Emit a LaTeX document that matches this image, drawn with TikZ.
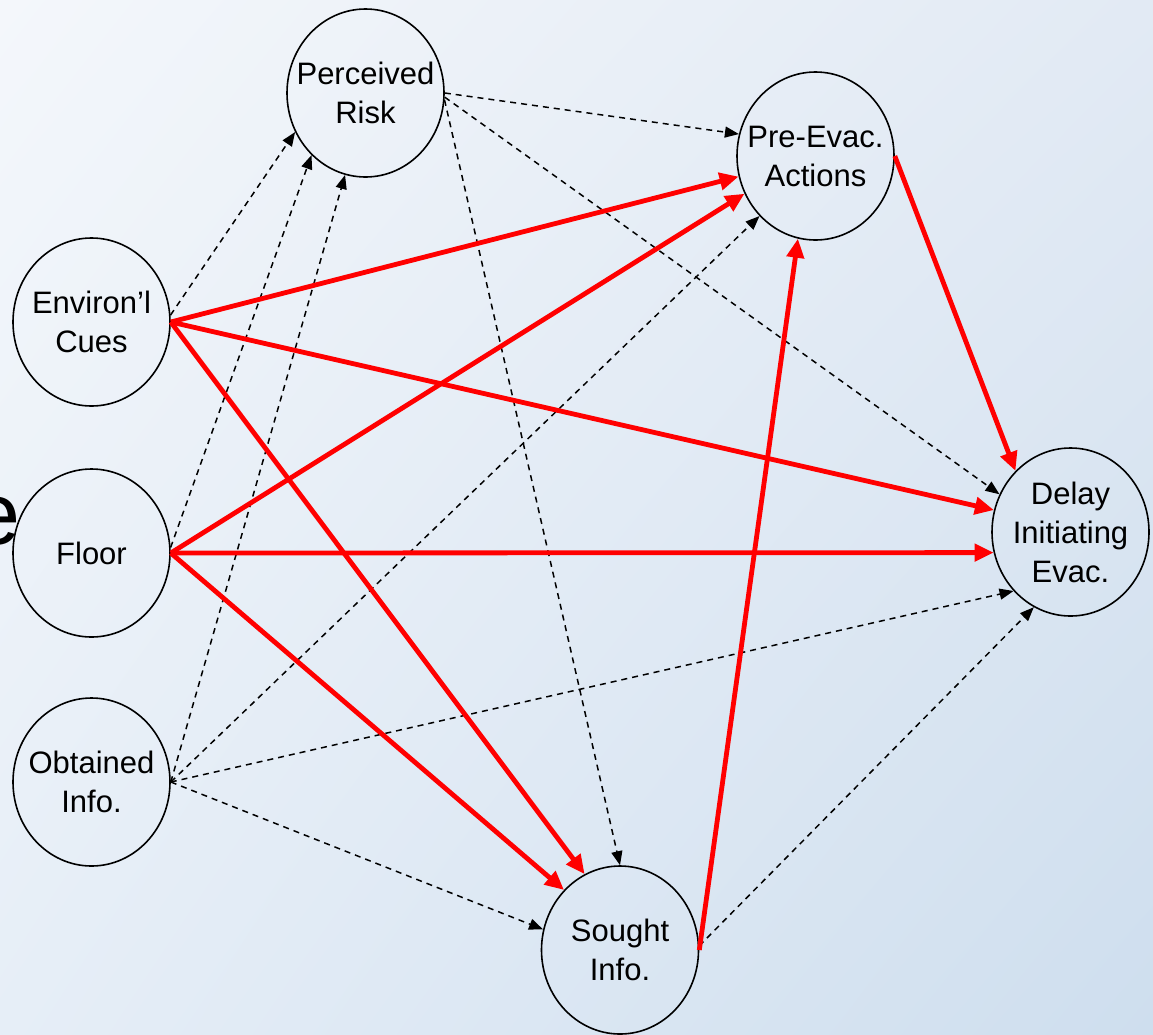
\documentclass[tikz,border=0pt]{standalone}
\usepackage{fontspec}
\setmainfont{Liberation Sans}
\usetikzlibrary{arrows.meta,shapes.geometric,shadings}
\definecolor{bgtl}{HTML}{F4F7FB}
\definecolor{bgtr}{HTML}{E2EAF4}
\definecolor{bgbl}{HTML}{E6EEF7}
\definecolor{bgbr}{HTML}{CEDEEE}
\begin{document}
\begin{tikzpicture}[x=1pt,y=-1pt,
  state/.style={ellipse, draw=black, line width=1.6pt, minimum width=157pt, minimum height=168pt,
    inner sep=0pt},
  statetext/.style={inner sep=0pt, align=center, font=\fontsize{31}{39}\selectfont},
  strong/.style={draw=red, line width=4.8pt, -{Triangle[length=19pt,width=17pt]}},
  weak/.style={draw=black, line width=1.5pt, dash pattern=on 6pt off 5pt, -{Triangle[length=14pt,width=11pt]}}]
\useasboundingbox (0,0) rectangle (1153,1034);
\clip (0,0) rectangle (1153,1034);
\shade[upper left=bgtl, upper right=bgtr, lower left=bgbl, lower right=bgbr] (0,0) rectangle (1153,1034);
\node[anchor=base west, inner sep=0pt, font=\fontsize{88}{88}\selectfont] (bgtext) at (-29,544) {e};
% nodes
\node[state] (pr) at (365.5,93) {};
\node[state] (pe) at (815.5,156) {};
\node[state] (ec) at (91.5,322) {};
\node[state] (fl) at (91.5,553) {};
\node[state] (oi) at (91.5,782) {};
\node[state] (si) at (620,950) {};
\node[state] (de) at (1070.5,532) {};
\node[statetext] (prt) at (pr) {Perceived\\Risk};
\node[statetext] (pet) at (pe) {Pre-Evac.\\Actions};
\node[statetext] (ect) at (ec) {Environ’l\\Cues};
\node[statetext] (flt) at (fl) {Floor};
\node[statetext] (oit) at (oi) {Obtained\\Info.};
\node[statetext] (sit) at (si) {Sought\\Info.};
\node[statetext] (det) at (de) {Delay\\Initiating\\Evac.};
% dashed connectors
\draw[weak] (ec.5) -- (pr.209);
\draw[weak] (fl.4) -- (pr.229);
\draw[weak] (oi.east) -- (pr.256);
\draw[weak] (pr.east) -- (pe.164);
\draw[weak] (pr.-3) -- (de.152);
\draw[weak] (pr.-5) -- (si.north);
\draw[weak] (oi.east) -- (pe.227);
\draw[weak] (oi.east) -- (de.226);
\draw[weak] (oi.east) -- (si.165);
\draw[weak] (si.3) -- (de.244);
% strong connectors
\draw[strong] (ec.east) -- (pe.195);
\draw[strong] (fl.east) -- (pe.208);
\draw[strong] (ec.east) -- (de.164);
\draw[strong] (fl.east) -- (de.195);
\draw[strong] (ec.east) -- (si.115.5);
\draw[strong] (fl.east) -- (si.133);
\draw[strong] (si.east) -- (pe.258);
\draw[strong] (pe.east) -- (de.132);
\end{tikzpicture}
\end{document}
